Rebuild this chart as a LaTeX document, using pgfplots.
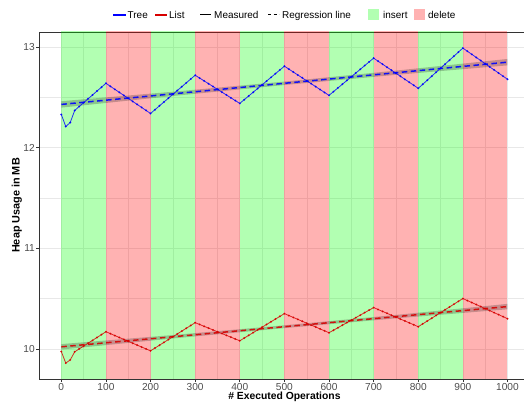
\documentclass[border=0pt]{standalone}
\usepackage{pgfplots}
\pgfplotsset{compat=1.18}
\usepackage{fontspec}
\setmainfont{Liberation Sans}
\definecolor{treeblue}{RGB}{0,0,255}
\definecolor{listred}{RGB}{215,0,0}
\definecolor{axisgrey}{RGB}{51,51,51}
\definecolor{ticktext}{RGB}{77,77,77}
\definecolor{gridgrey}{RGB}{232,232,232}
\definecolor{insgreen}{RGB}{0,255,0}
\definecolor{delred}{RGB}{255,0,0}
\begin{document}
\begin{tikzpicture}
\useasboundingbox (-39bp,-29bp) rectangle (485bp,379bp);
\begin{axis}[
  at={(0,0)}, anchor=south west,
  scale only axis, width=485bp, height=347bp,
  xmin=-50, xmax=1037, ymin=9.7, ymax=13.15,
  axis x line=box, axis y line=left,
  axis line style={-, draw=axisgrey, line width=0.7bp},
  xtick={0,100,...,1000}, ytick={10,11,12,13},
  minor xtick={-50,50,...,1050}, minor ytick={10.5,11.5,12.5},
  grid=both,
  major grid style={gridgrey, line width=0.6bp},
  minor grid style={gridgrey, line width=0.3bp},
  tick align=outside, major tick length=2.7bp, minor tick length=0pt,
  xtick pos=left, ytick pos=left,
  tick style={axisgrey, line width=0.6bp},
  ticklabel style={font=\fontsize{10.2}{11}\selectfont, text=ticktext},
  /pgf/number format/assume math mode=true,
  /pgf/number format/1000 sep={},
  xticklabel style={inner sep=1bp, yshift=-0.3bp},
  yticklabel style={inner sep=1bp, xshift=-0.3bp},
  xlabel={\bfseries\# Executed Operations},
  xlabel style={at={(axis description cs:0.506,0)}, anchor=base, yshift=-20.5bp, font=\fontsize{10.4}{12}\selectfont},
  ylabel={\bfseries Heap Usage in MB},
  ylabel style={at={(axis description cs:-0.0400,0.5)}, anchor=base, font=\fontsize{10.9}{13}\selectfont},
]
% shaded regions
\addplot[draw=none, fill=insgreen, fill opacity=0.3] coordinates {(0,9) (100,9) (100,14) (0,14)} -- cycle;
\addplot[draw=none, fill=delred, fill opacity=0.3] coordinates {(100,9) (200,9) (200,14) (100,14)} -- cycle;
\addplot[draw=none, fill=insgreen, fill opacity=0.3] coordinates {(200,9) (300,9) (300,14) (200,14)} -- cycle;
\addplot[draw=none, fill=delred, fill opacity=0.3] coordinates {(300,9) (400,9) (400,14) (300,14)} -- cycle;
\addplot[draw=none, fill=insgreen, fill opacity=0.3] coordinates {(400,9) (500,9) (500,14) (400,14)} -- cycle;
\addplot[draw=none, fill=delred, fill opacity=0.3] coordinates {(500,9) (600,9) (600,14) (500,14)} -- cycle;
\addplot[draw=none, fill=insgreen, fill opacity=0.3] coordinates {(600,9) (700,9) (700,14) (600,14)} -- cycle;
\addplot[draw=none, fill=delred, fill opacity=0.3] coordinates {(700,9) (800,9) (800,14) (700,14)} -- cycle;
\addplot[draw=none, fill=insgreen, fill opacity=0.3] coordinates {(800,9) (900,9) (900,14) (800,14)} -- cycle;
\addplot[draw=none, fill=delred, fill opacity=0.3] coordinates {(900,9) (1000,9) (1000,14) (900,14)} -- cycle;
% confidence ribbons
\addplot[draw=none, fill=black, fill opacity=0.22] coordinates {
 (0,12.462) (250,12.556) (500,12.657) (750,12.766) (1000,12.882)
 (1000,12.818) (750,12.724) (500,12.623) (250,12.514) (0,12.398)} -- cycle;
\addplot[draw=none, fill=black, fill opacity=0.22] coordinates {
 (0,10.047) (250,10.137) (500,10.234) (750,10.337) (1000,10.447)
 (1000,10.393) (750,10.303) (500,10.206) (250,10.103) (0,9.993)} -- cycle;
% measured: Tree
\addplot[treeblue, opacity=0.8, line width=0.8bp, mark=*, mark size=0.55bp] coordinates {
 (0,12.33) (10,12.21) (20,12.25) (30,12.37) (40,12.409) (50,12.447) (60,12.486) (70,12.524) (80,12.563) (90,12.601)
 (100,12.64) (110,12.61) (120,12.58) (130,12.55) (140,12.52) (150,12.49) (160,12.46) (170,12.43) (180,12.40) (190,12.37)
 (200,12.34) (210,12.378) (220,12.416) (230,12.454) (240,12.492) (250,12.53) (260,12.568) (270,12.606) (280,12.644) (290,12.682)
 (300,12.72) (310,12.692) (320,12.664) (330,12.636) (340,12.608) (350,12.58) (360,12.552) (370,12.524) (380,12.496) (390,12.468)
 (400,12.44) (410,12.477) (420,12.514) (430,12.551) (440,12.588) (450,12.625) (460,12.662) (470,12.699) (480,12.736) (490,12.773)
 (500,12.81) (510,12.781) (520,12.752) (530,12.723) (540,12.694) (550,12.665) (560,12.636) (570,12.607) (580,12.578) (590,12.549)
 (600,12.52) (610,12.557) (620,12.594) (630,12.631) (640,12.668) (650,12.705) (660,12.742) (670,12.779) (680,12.816) (690,12.853)
 (700,12.89) (710,12.86) (720,12.83) (730,12.80) (740,12.77) (750,12.74) (760,12.71) (770,12.68) (780,12.65) (790,12.62)
 (800,12.59) (810,12.63) (820,12.67) (830,12.71) (840,12.75) (850,12.79) (860,12.83) (870,12.87) (880,12.91) (890,12.95)
 (900,12.99) (910,12.959) (920,12.928) (930,12.897) (940,12.866) (950,12.835) (960,12.804) (970,12.773) (980,12.742) (990,12.711)
 (1000,12.68)};
% measured: List
\addplot[listred, opacity=0.8, line width=0.8bp, mark=*, mark size=0.55bp] coordinates {
 (0,9.973) (10,9.858) (20,9.89) (30,9.97) (40,9.999) (50,10.027) (60,10.056) (70,10.084) (80,10.113) (90,10.141)
 (100,10.17) (110,10.151) (120,10.132) (130,10.113) (140,10.094) (150,10.075) (160,10.056) (170,10.037) (180,10.018) (190,9.999)
 (200,9.98) (210,10.008) (220,10.036) (230,10.064) (240,10.092) (250,10.12) (260,10.148) (270,10.176) (280,10.204) (290,10.232)
 (300,10.26) (310,10.242) (320,10.224) (330,10.206) (340,10.188) (350,10.17) (360,10.152) (370,10.134) (380,10.116) (390,10.098)
 (400,10.08) (410,10.107) (420,10.134) (430,10.161) (440,10.188) (450,10.215) (460,10.242) (470,10.269) (480,10.296) (490,10.323)
 (500,10.35) (510,10.331) (520,10.312) (530,10.293) (540,10.274) (550,10.255) (560,10.236) (570,10.217) (580,10.198) (590,10.179)
 (600,10.16) (610,10.185) (620,10.21) (630,10.235) (640,10.26) (650,10.285) (660,10.31) (670,10.335) (680,10.36) (690,10.385)
 (700,10.41) (710,10.391) (720,10.372) (730,10.353) (740,10.334) (750,10.315) (760,10.296) (770,10.277) (780,10.258) (790,10.239)
 (800,10.22) (810,10.248) (820,10.276) (830,10.304) (840,10.332) (850,10.36) (860,10.388) (870,10.416) (880,10.444) (890,10.472)
 (900,10.50) (910,10.48) (920,10.46) (930,10.44) (940,10.42) (950,10.40) (960,10.38) (970,10.36) (980,10.34) (990,10.32)
 (1000,10.30)};
% regression lines
\addplot[treeblue, opacity=0.9, line width=1.5bp, dash pattern=on 5.5bp off 3.5bp] coordinates {(0,12.43) (1000,12.85)};
\addplot[listred, opacity=0.9, line width=1.5bp, dash pattern=on 5.5bp off 3.5bp] coordinates {(0,10.02) (1000,10.42)};
\end{axis}
% legend (top, horizontal, ggplot style)
\begin{scope}[every node/.style={inner sep=0pt, anchor=base west, font=\fontsize{10}{12}\selectfont}]
\draw[treeblue, line width=1.1bp] (74bp,364bp) -- (87bp,364bp);
\node at (88.5bp,360.4bp) {Tree};
\draw[listred, line width=1.1bp] (116bp,364bp) -- (128bp,364bp);
\node at (130bp,360.4bp) {List};
\draw[black, line width=1bp] (161bp,364bp) -- (172bp,364bp);
\node at (175bp,360.4bp) {Measured};
\draw[black, line width=1bp, dash pattern=on 3bp off 2.5bp] (229bp,364bp) -- (240bp,364bp);
\node at (243bp,360.4bp) {Regression line};
\fill[insgreen, fill opacity=0.3] (329bp,359bp) rectangle (340bp,369.5bp);
\node at (344bp,360.4bp) {insert};
\fill[delred, fill opacity=0.3] (375bp,359bp) rectangle (386bp,369.5bp);
\node at (389bp,360.4bp) {delete};
\end{scope}
\end{tikzpicture}
\end{document}
